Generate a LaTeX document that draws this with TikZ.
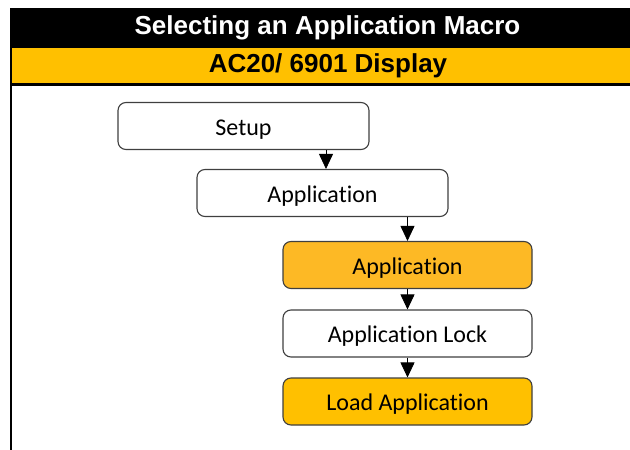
\documentclass[tikz,border=0pt]{standalone}
\usepackage{fontspec}
\setmainfont[Ligatures=NoCommon]{Carlito}
\newfontfamily\headfont{Liberation Sans}
\usetikzlibrary{arrows.meta}
\definecolor{Gold}{HTML}{FFC000}
\definecolor{Amber}{HTML}{FDB925}
\definecolor{Edge}{HTML}{3F3F3F}

\begin{document}
\begin{tikzpicture}[x=1pt,y=-1pt,
  stepbox/.style={draw=Edge,line width=1.1pt,rounded corners=8pt,minimum height=47pt,
    inner sep=0pt,text height=18pt,text depth=0pt,font=\fontsize{24}{28}\selectfont},
  flow/.style={-{Triangle[width=14pt,length=15pt]},line width=0.8pt}]
  \useasboundingbox (0,0) rectangle (630,450);
  \fill[black] (10,8) rectangle (630,48);
  \fill[Gold] (12,48) rectangle (630,83.5);
  \draw[line width=3pt] (10,84.5) -- (630,84.5);
  \draw[line width=2pt] (11,48) -- (11,450);
  \node[white,font=\headfont\bfseries\fontsize{26}{30}\selectfont] (title) at (327.5,28) {Selecting an Application Macro};
  \node[font=\headfont\bfseries\fontsize{26}{30}\selectfont] (display) at (328,65.5) {AC20/ 6901 Display};

  \node[stepbox,minimum width=251pt] (setup) at (243.5,126) {Setup};
  \node[stepbox,minimum width=251pt] (app) at (322.5,193) {Application};
  \node[stepbox,minimum width=249pt,fill=Amber] (appsel) at (407.5,265) {Application};
  \node[stepbox,minimum width=249pt] (lock) at (407.5,333.5) {Application Lock};
  \node[stepbox,minimum width=249pt,fill=Gold] (load) at (407.5,401.5) {Load Application};

  \draw[flow] ([xshift=3.5pt]app.north |- setup.south) -- ([xshift=3.5pt]app.north);
  \draw[flow] (appsel.north |- app.south) -- (appsel.north);
  \draw[flow] (appsel.south) -- (lock.north);
  \draw[flow] (lock.south) -- (load.north);
\end{tikzpicture}
\end{document}
